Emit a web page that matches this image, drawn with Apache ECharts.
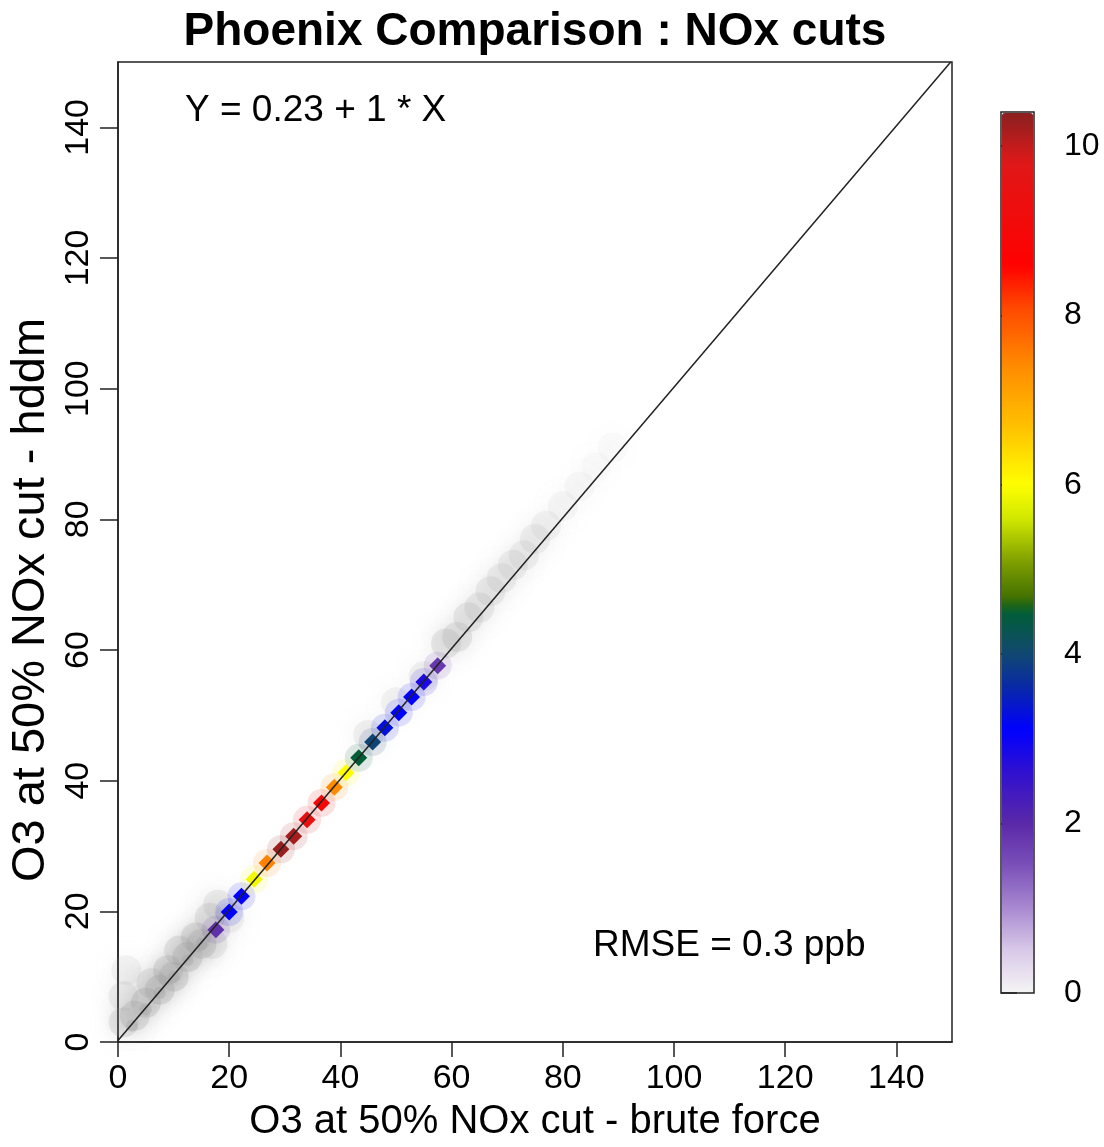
<!DOCTYPE html>
<html><head><meta charset="utf-8">
<script src="https://cdn.jsdelivr.net/npm/echarts@6/dist/echarts.min.js"></script>
<style>html,body{margin:0;padding:0;background:#fff}#c{width:1104px;height:1147px}</style>
</head><body><div id="c"></div>
<script>
// ---- text ----
const titleText = 'Phoenix Comparison : NOx cuts';
const xName = 'O3 at 50% NOx cut - brute force';
const yName = 'O3 at 50% NOx cut - hddm';
const fitLabel = 'Y = 0.23 + 1 * X';
const rmseLabel = 'RMSE = 0.3 ppb';
// ---- ticks ----
const axisTicks = [0, 20, 40, 60, 80, 100, 120, 140];
const colorbarTicks = [0, 2, 4, 6, 8, 10];
// ---- dense cells along the diagonal (count) ----
const diamondX = [17.6, 20.0, 22.2, 24.5, 26.8, 29.3, 31.6, 34.0, 36.6, 38.9, 41.0, 43.3, 45.8, 48.0, 50.5, 52.8, 55.0, 57.5];
const diamondY = [17.2, 19.9, 22.3, 24.9, 27.4, 29.5, 31.5, 34.0, 36.6, 39.0, 41.2, 43.5, 45.9, 48.1, 50.4, 52.8, 55.1, 57.6];
const diamondN = [1.9, 3.1, 3.1, 5.9, 7.5, 10.3, 10.2, 9.4, 8.9, 7.4, 6.0, 4.5, 3.95, 3.3, 3.1, 3.1, 2.8, 1.8];
// ---- light density haze (grey smoothing) ----
const hazeX = [1, 1, 1.5, 3, 5, 6, 7.5, 9, 10, 11, 12.5, 14, 15, 16.5, 17, 18, 20, 2.5, 5, 7.5, 10, 12.5, 15,
               45, 50, 55, 59, 61, 63, 65, 67, 69, 71, 73, 75, 77, 80, 83, 86, 89];
const hazeY = [3, 7, 11, 4, 6, 9, 8, 11, 10, 14, 13, 16, 15, 19, 15, 21, 19, 2.5, 5, 7.5, 10, 12.5, 15,
               47, 52, 56, 61, 62, 65, 66.5, 69, 71, 73, 74.5, 77, 79, 82, 85, 88, 91];
const hazeD = [0.5, 0.35, 0.25, 0.6, 0.7, 0.45, 0.7, 0.6, 0.7, 0.5, 0.7, 0.6, 0.7, 0.5, 0.4, 0.4, 0.3, 0.9, 0.9, 0.9, 0.9, 0.9, 0.9,
               0.3, 0.25, 0.3, 0.5, 0.5, 0.45, 0.4, 0.4, 0.35, 0.35, 0.3, 0.3, 0.25, 0.2, 0.15, 0.12, 0.1];
// ---- fitted line endpoints ----
const fitLineX = [0, 149.77];
const fitLineY = [0.23, 150];

// ---- palette for colour scale ----
const cbMin = 0, cbMax = 10.4;
const stops = [
  [0, '#f4f4f4'], [0.5, '#d8c8e8'], [1.0, '#a888d0'], [1.5, '#7a50b8'], [2.0, '#5a28a8'],
  [2.6, '#3010d0'], [3.1, '#0000ff'], [3.6, '#0828a8'], [4.0, '#104870'], [4.55, '#006030'],
  [4.6, '#3a6a00'], [5.1, '#80a000'], [5.6, '#d0e800'], [6.0, '#ffff00'], [6.7, '#ffc000'],
  [7.4, '#ff8c00'], [8.1, '#ff4800'], [8.6, '#ff0000'], [9.8, '#e01818'], [10.4, '#8a2020']
];
function hex2rgb(h){return [parseInt(h.substr(1,2),16),parseInt(h.substr(3,2),16),parseInt(h.substr(5,2),16)];}
function colorAt(v){
  for (let i=0;i<stops.length-1;i++){
    const a=stops[i], b=stops[i+1];
    if (v>=a[0] && v<=b[0]){
      const t=(v-a[0])/(b[0]-a[0]); const ca=hex2rgb(a[1]), cb=hex2rgb(b[1]);
      return 'rgb('+ca.map((c,k)=>Math.round(c+(cb[k]-c)*t)).join(',')+')';
    }
  }
  return stops[stops.length-1][1];
}
const palette = [];
for (let i=0;i<=208;i++){ palette.push(colorAt(cbMin + (cbMax-cbMin)*i/208)); }

const FONT = 'Liberation Sans, Arial, Helvetica, sans-serif';
const chart = echarts.init(document.getElementById('c'), null, {renderer:'canvas'});
const diamonds = diamondX.map((x,i)=>[x, diamondY[i], diamondN[i]]);
const haze = hazeX.map((x,i)=>[x, hazeY[i], hazeD[i]]);
const fitLine = fitLineX.map((x,i)=>[x, fitLineY[i]]);

chart.setOption({
  backgroundColor:'#fff',
  animation:false,
  title:[
    {text:titleText, left:535, top:9, textAlign:'center', padding:0,
     textStyle:{fontFamily:FONT, fontSize:46, fontWeight:'bold', color:'#000'}},
    {text:fitLabel, left:185, top:92, padding:0,
     textStyle:{fontFamily:FONT, fontSize:37, fontWeight:'normal', color:'#000'}},
    {text:rmseLabel, left:593, top:927, padding:0,
     textStyle:{fontFamily:FONT, fontSize:37, fontWeight:'normal', color:'#000'}}
  ],
  grid:[
    {left:118, top:62, width:834, height:980, show:true, borderColor:'#222', borderWidth:1.5,
     backgroundColor:'transparent', containLabel:false, outerBoundsMode:'none'},
    {left:1001, top:112, width:33, height:881, show:true, borderColor:'#222', borderWidth:1.5,
     backgroundColor:'transparent', z:10, containLabel:false, outerBoundsMode:'none'}
  ],
  xAxis:[
    {type:'value', gridIndex:0, min:0, max:150, interval:20, splitLine:{show:false},
     axisLine:{show:true, onZero:false, lineStyle:{color:'#222', width:1.5}},
     axisTick:{show:true, length:15, customValues:axisTicks, lineStyle:{color:'#222', width:1.5}},
     axisLabel:{customValues:axisTicks, margin:20, fontFamily:FONT, fontSize:34, color:'#000'},
     name:xName, nameLocation:'middle', nameGap:60,
     nameTextStyle:{fontFamily:FONT, fontSize:40, color:'#000'}},
    {type:'value', gridIndex:1, min:0, max:1, show:false}
  ],
  yAxis:[
    {type:'value', gridIndex:0, min:0, max:150, interval:20, splitLine:{show:false},
     axisLine:{show:true, onZero:false, lineStyle:{color:'#222', width:1.5}},
     axisTick:{show:true, length:18, customValues:axisTicks, lineStyle:{color:'#222', width:1.5}},
     axisLabel:{customValues:axisTicks, rotate:90, margin:22, fontFamily:FONT, fontSize:34, color:'#000'},
     name:yName, nameLocation:'middle', nameGap:63,
     nameTextStyle:{fontFamily:FONT, fontSize:47, color:'#000', padding:[0, 96, 0, 0]}},
    {type:'value', gridIndex:1, position:'right', min:cbMin, max:cbMax, interval:2, splitLine:{show:false},
     axisLine:{show:false},
     axisTick:{show:true, length:16, customValues:colorbarTicks, lineStyle:{color:'#222', width:1.5}},
     axisLabel:{customValues:colorbarTicks, margin:30, fontFamily:FONT, fontSize:32, color:'#000'}}
  ],
  visualMap:[
    {type:'continuous', seriesIndex:[1,2], dimension:2, min:cbMin, max:cbMax,
     left:1002, top:113, itemWidth:31, itemHeight:879, padding:0, calculable:false,
     orient:'vertical', inRange:{color:palette}, text:null, hoverLink:false},
    {type:'continuous', show:false, seriesIndex:[0], dimension:2, min:0, max:1,
     inRange:{opacity:[0.0, 0.4]}}
  ],
  series:[
    {type:'scatter', xAxisIndex:0, yAxisIndex:0, data:haze, symbol:'circle',
     symbolSize:function(v){return v[2] > 0.8 ? 12 : 30;},
     itemStyle:{color:'#a0a0a0', shadowBlur:22, shadowColor:'rgba(150,150,150,0.9)'}, z:1, silent:true},
    {type:'scatter', xAxisIndex:0, yAxisIndex:0, data:diamonds, symbol:'circle', symbolSize:28,
     itemStyle:{opacity:0.12, shadowBlur:16, shadowColor:'rgba(200,200,200,0.3)'}, z:2, silent:true},
    {type:'scatter', xAxisIndex:0, yAxisIndex:0, data:diamonds, symbol:'diamond', symbolSize:17,
     itemStyle:{opacity:1}, z:3},
    {type:'line', xAxisIndex:0, yAxisIndex:0, data:fitLine, showSymbol:false, clip:true,
     lineStyle:{color:'#222', width:1.5}, z:4, silent:true}
  ]
});
</script></body></html>
